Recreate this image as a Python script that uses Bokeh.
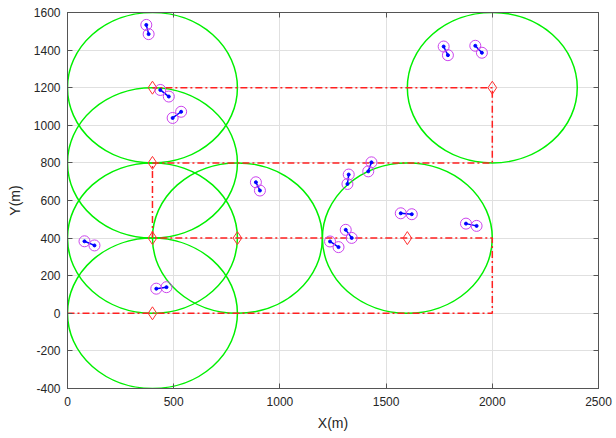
from bokeh.plotting import figure
from bokeh.models import Range1d, LinearAxis, FixedTicker, CustomJSTickFormatter
from bokeh.embed import file_html
from bokeh.resources import INLINE

# ---- data ----
x_ticks = [0, 500, 1000, 1500, 2000, 2500]
y_ticks = [-400, -200, 0, 200, 400, 600, 800, 1000, 1200, 1400, 1600]

# coverage circles (centre, radius 400 m)
circle_x = [400, 400, 400, 800, 400, 1600, 2000]
circle_y = [1200, 800, 400, 400, 0, 400, 1200]
circle_r = 400

# route (dash-dot)
route_x = [0, 2000, 2000, 400, 400, 2000, 2000, 400]
route_y = [0, 0, 400, 400, 800, 800, 1200, 1200]

# hover points (diamonds)
diamond_x = [400, 400, 400, 400, 800, 1600, 2000]
diamond_y = [0, 400, 800, 1200, 400, 400, 1200]

# node pairs
pair_x0 = [371, 437, 495, 887, 1771, 1920, 1324, 1431, 80, 418, 1569, 1876, 1310, 1236]
pair_y0 = [1534, 1188, 1039, 697, 1419, 1423, 738, 803, 383, 131, 532, 477, 444, 382]
pair_x1 = [382, 477, 535, 906, 1791, 1951, 1318, 1416, 127, 466, 1621, 1926, 1338, 1276]
pair_y1 = [1485, 1153, 1072, 653, 1373, 1386, 688, 755, 361, 139, 527, 465, 401, 352]

FONT = "Liberation Sans"
AXC = "#555555"

p = figure(width=616, height=438,
           x_range=Range1d(0, 2500), y_range=Range1d(-400, 1600),
           output_backend="svg", toolbar_location=None,
           min_border_left=67, min_border_right=18,
           min_border_top=12, min_border_bottom=50)
p.background_fill_color = "white"
p.border_fill_color = "white"
p.outline_line_color = AXC
p.outline_line_width = 1

# grid
p.xgrid.ticker = FixedTicker(ticks=x_ticks)
p.ygrid.ticker = FixedTicker(ticks=y_ticks)
p.xgrid.grid_line_color = "#e0e0e0"
p.ygrid.grid_line_color = "#e0e0e0"

def style_axis(ax, ticks, show_labels=True):
    ax.ticker = FixedTicker(ticks=ticks)
    ax.major_tick_in = 5
    ax.major_tick_out = 0
    ax.minor_tick_in = 0
    ax.minor_tick_out = 0
    ax.axis_line_color = AXC
    ax.major_tick_line_color = AXC
    ax.major_label_text_font = FONT
    ax.major_label_text_font_size = "12px"
    ax.major_label_text_color = "#262626"
    ax.axis_label_text_font = FONT
    ax.axis_label_text_font_size = "14px"
    ax.axis_label_text_font_style = "normal"
    ax.axis_label_text_color = "#262626"
    ax.formatter = CustomJSTickFormatter(code="return tick.toString();")
    if not show_labels:
        ax.major_label_text_font_size = "0px"
        ax.major_label_standoff = 0

style_axis(p.xaxis[0], x_ticks)
style_axis(p.yaxis[0], y_ticks)
p.xaxis[0].axis_label = "X(m)"
p.yaxis[0].axis_label = "Y(m)"
p.xaxis[0].major_label_standoff = 8
p.xaxis[0].axis_label_standoff = 6
p.yaxis[0].major_label_standoff = 7
p.yaxis[0].axis_label_standoff = 8

top = LinearAxis()
style_axis(top, x_ticks, show_labels=False)
p.add_layout(top, "above")
right = LinearAxis()
style_axis(right, y_ticks, show_labels=False)
p.add_layout(right, "right")

# circles
p.ellipse(x=circle_x, y=circle_y, width=2 * circle_r, height=2 * circle_r,
          fill_color=None, line_color="#00f000", line_width=1.5)

# route
p.line(route_x, route_y, line_color="#ff2020", line_width=1.5, line_dash="7 3 2 3")

# diamonds
p.scatter(diamond_x, diamond_y, marker="diamond", size=13,
          fill_color=None, line_color="#ff3030", line_width=1)

# pairs
p.segment(pair_x0, pair_y0, pair_x1, pair_y1, line_color="#0000ff", line_width=1.5)
p.scatter(pair_x0 + pair_x1, pair_y0 + pair_y1, marker="circle", size=11,
          fill_color=None, line_color="#cc44ee", line_width=1)
p.scatter(pair_x0 + pair_x1, pair_y0 + pair_y1, marker="circle", size=3,
          fill_color="#0000ff", line_color="#0000ff")

open("out.html", "w").write(file_html(p, INLINE))
